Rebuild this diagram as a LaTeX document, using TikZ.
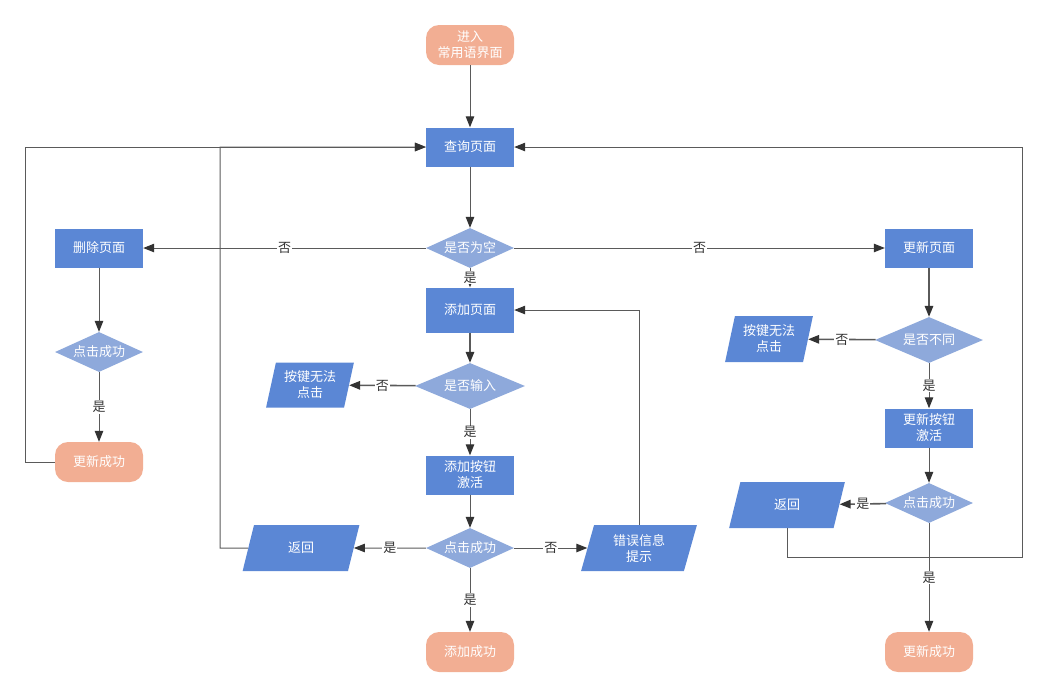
\documentclass[tikz,border=0pt]{standalone}
\usepackage{fontspec}
\newfontfamily\cjk{Noto Sans CJK SC}
\usetikzlibrary{shapes.geometric,arrows.meta}
\definecolor{boxblue}{HTML}{5B87D5}
\definecolor{diablue}{HTML}{8EA9DB}
\definecolor{salmon}{HTML}{F2AE93}
\definecolor{linegray}{HTML}{5A5A5A}
\definecolor{tipcol}{HTML}{333333}
\definecolor{lbltext}{HTML}{333333}
\begin{document}
\begin{tikzpicture}[x=1pt,y=-1pt,
  every node/.style={font=\cjk\fontsize{13}{16}\selectfont, text=white, inner sep=0pt, align=center},
  proc/.style={rectangle, fill=boxblue, minimum width=88pt, minimum height=39pt},
  term/.style={rectangle, rounded corners=13pt, fill=salmon, minimum width=88pt, minimum height=40pt},
  dec/.style={diamond, fill=diablue, aspect=2.2, minimum width=88pt, minimum height=40pt},
  io/.style={trapezium, trapezium left angle=75, trapezium right angle=105, trapezium stretches=true, fill=boxblue, minimum width=88pt, minimum height=45pt},
  conn/.style={draw=linegray, line width=1pt, -{Triangle[length=11pt,width=8.5pt,color=tipcol]}},
  thick conn/.style={conn, line width=1.6pt},
  lbl/.style={fill=white, text=lbltext, inner sep=1pt}
]
\useasboundingbox (0,0) rectangle (1047,697);

% centre column
\node[term] (start) at (470,45) {进入\\常用语界面};
\node[proc] (query) at (470,147) {查询页面};
\node[dec] (empty) at (470,248) {是否为空};
\node[proc, minimum height=45pt] (add) at (470,310) {添加页面};
\node[dec, minimum width=110pt, minimum height=46pt] (inp) at (470,386) {是否输入};
\node[io] (lkey) at (310,385) {按键无法\\点击};
\node[proc] (act) at (470,475) {添加按钮\\激活};
\node[dec] (mok) at (470,548) {点击成功};
\node[io, minimum width=117pt, minimum height=46pt] (lret) at (301,548) {返回};
\node[io, minimum width=116pt, minimum height=46pt] (err) at (639,548) {错误信息\\提示};
\node[term] (adone) at (470,652) {添加成功};

% left column
\node[proc] (del) at (99,248) {删除页面};
\node[dec] (lok) at (99,352) {点击成功};
\node[term] (ldone) at (99,462) {更新成功};

% right column
\node[proc] (upd) at (929,248) {更新页面};
\node[dec, minimum width=108pt, minimum height=46pt] (diff) at (929,340) {是否不同};
\node[io, minimum height=46pt] (rkey) at (769,339) {按键无法\\点击};
\node[proc] (ract) at (929,428) {更新按钮\\激活};
\node[dec] (rok) at (929,503) {点击成功};
\node[io, minimum width=116pt, minimum height=46pt] (rret) at (787,505) {返回};
\node[term] (rdone) at (929,652) {更新成功};

% connectors
\draw[conn] (start) -- (query);
\draw[conn] (query) -- (empty);
\draw[conn] (empty) -- node[lbl]{否} (del);
\draw[conn] (empty) -- node[lbl]{否} (upd);
\draw[conn] (empty) -- node[lbl]{是} (add);
\draw[thick conn] (add) -- (inp);
\draw[thick conn] (inp) -- node[lbl]{否} (lkey);
\draw[conn] (inp) -- node[lbl]{是} (act);
\draw[conn] (act) -- (mok);
\draw[conn] (mok) -- node[lbl]{是} (lret);
\draw[conn] (mok) -- node[lbl]{否} (err);
\draw[conn] (mok) -- node[lbl]{是} (adone);
\draw[conn] (err.north) |- (add.east);
\draw[conn] (lret.west) -- (220,548) |- (query.west);

\draw[conn] (del) -- (lok);
\draw[conn] (lok) -- node[lbl]{是} (ldone);
\draw[conn] (ldone.west) -- (25,462) |- (query.west);

\draw[thick conn] (upd) -- (diff);
\draw[thick conn] (diff) -- node[lbl]{否} (rkey);
\draw[conn] (diff) -- node[lbl]{是} (ract);
\draw[conn] (ract) -- (rok);
\draw[thick conn] (rok) -- node[lbl]{是} (rret);
\draw[conn] (rok) -- node[lbl]{是} (rdone);
\draw[conn] (rret.south) |- (1022,557) |- (query.east);
\end{tikzpicture}
\end{document}
